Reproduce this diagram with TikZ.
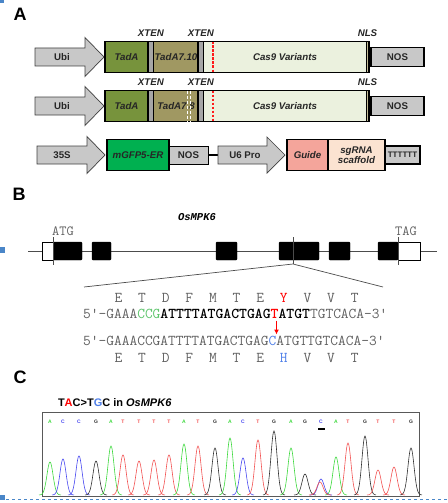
\documentclass[tikz,border=0pt]{standalone}
\usepackage{xcolor}
\usepackage{fontspec}
\setsansfont{Liberation Sans}
\newfontfamily\genefont{Liberation Mono}
\usepackage{tikz}
\usetikzlibrary{arrows.meta}

\definecolor{tada}{HTML}{77933C}
\definecolor{tadb}{HTML}{A09862}
\definecolor{cas}{HTML}{EBF1DE}
\definecolor{nls}{HTML}{C4BD97}
\definecolor{xten}{HTML}{A6A6A6}
\definecolor{prom}{HTML}{C8C8C8}
\definecolor{gfp}{HTML}{00B050}
\definecolor{guide}{HTML}{F4A59B}
\definecolor{scaf}{HTML}{FBE3D1}
\definecolor{seqgray}{HTML}{606060}
\definecolor{cgreen}{HTML}{5CC46B}
\definecolor{cblue}{HTML}{4F7FE8}
\definecolor{cutred}{HTML}{FF1A1A}
\definecolor{pkA}{HTML}{3CD83C}
\definecolor{pkC}{HTML}{4848F0}
\definecolor{pkG}{HTML}{303030}
\definecolor{pkT}{HTML}{F25252}
\definecolor{edge}{HTML}{4A86C8}

\begin{document}
\begin{tikzpicture}[x=1pt, y=-1pt,
    lab/.style={font=\sffamily\bfseries\fontsize{9.7}{10}\selectfont, text=black!85, inner sep=0pt, outer sep=0pt},
    seg/.style={lab, anchor=west, minimum height=31pt},
    outline/.style={line width=1.8pt},
    sep/.style={line width=1.2pt},
    promo/.style={draw=black!75, fill=prom, line width=0.7pt},
    panel/.style={font=\sffamily\bfseries\fontsize{18}{18}\selectfont, inner sep=0pt},
    seq/.style={font=\ttfamily\fontsize{15}{15}\selectfont, text=seqgray, inner sep=0pt, anchor=base west},
    aa/.style={seq, anchor=base},
    exon/.style={fill=black, draw=black, rounded corners=1pt},
    peak/.style={line width=0.6pt}]
    \useasboundingbox (0,0) rectangle (447,503);

    % side marks
    \fill[edge] (0,0) rectangle (4,3.5);
    \fill[edge] (0,247) rectangle (5,253);
    \fill[edge] (0,495) rectangle (5,500);
    \draw[edge, dashed, line width=0.7pt] (0,499.5) -- (447,499.5);

    % A: base editor constructs
    \node[panel] (A) at (20,14.5) {A};
    \foreach \r/\y/\tname in {1/57/TadA7.10, 2/106/TadA7.8} {
        \draw[promo] (35,\y-9) -- (85,\y-9) -- (85,\y-19.5) -- (104,\y) -- (85,\y+19.5) -- (85,\y+9) -- (35,\y+9) -- cycle;
        \node[lab] (ubi\r) at (62,\y) {Ubi};
        \node[seg, fill=tada, minimum width=43pt] (tada\r) at (105,\y) {\textit{TadA}};
        \node[seg, fill=xten, draw, sep, minimum width=6pt] (xa\r) at (tada\r.east) {};
        \node[seg, fill=tadb, minimum width=44pt] (tadb\r) at (xa\r.east) {\textit{\tname}};
        \node[seg, fill=xten, draw, sep, minimum width=6pt] (xb\r) at (tadb\r.east) {};
        \node[seg, fill=cas, minimum width=162pt] (cas\r) at (xb\r.east) {\textit{Cas9 Variants}};
        \node[seg, fill=nls, draw, line width=0.8pt, minimum width=3pt] (nls\r) at (cas\r.east) {};
        \draw[draw=cutred, line width=1.3pt, dash pattern=on 2.5pt off 1.5pt] ([xshift=9pt]cas\r.north west) -- ([xshift=9pt]cas\r.south west);
        \draw[outline] (tada\r.north west) rectangle (nls\r.south east);
        \node[seg, fill=prom, draw, line width=1.6pt, minimum width=53pt, minimum height=19pt] (nos\r) at ([xshift=2pt]nls\r.east) {NOS};
        \node[lab, above=5pt] at (xa\r.north) {\textit{XTEN}};
        \node[lab, above=5pt] at (xb\r.north) {\textit{XTEN}};
        \node[lab, above=5pt] at (nls\r.north) {\textit{NLS}};
    }
    \draw[white, densely dashed, line width=0.6pt] ([xshift=-11pt]tadb2.north east) -- ([xshift=-11pt]tadb2.south east);
    \draw[white, densely dashed, line width=0.6pt] ([xshift=-8pt]tadb2.north east) -- ([xshift=-8pt]tadb2.south east);

    % sgRNA cassette
    \draw[promo] (37,146) -- (87,146) -- (87,136.5) -- (105,155) -- (87,173.5) -- (87,164) -- (37,164) -- cycle;
    \node[lab] (p35s) at (62,155) {35S};
    \node[seg, fill=gfp, minimum width=62pt] (gfp) at (107,155) {\textit{mGFP5-ER}};
    \node[seg, fill=prom, draw, line width=0.7pt, minimum width=39pt, minimum height=18pt] (nos3) at (gfp.east) {NOS};
    \draw[outline] (gfp.north west) rectangle (gfp.south east);
    \coordinate (u6tail) at (218,155);
    \draw[line width=2.5pt] (nos3) -- (u6tail);
    \draw[promo] (218,146) -- (267,146) -- (267,137) -- (285,155) -- (267,173) -- (267,164) -- (218,164) -- cycle;
    \node[lab] (u6) at (245,155) {U6 Pro};
    \node[seg, fill=guide, minimum width=41pt] (guide) at (287,155) {\textit{Guide}};
    \node[seg, fill=scaf, minimum width=57pt, align=center] (scaf) at (guide.east) {\textit{sgRNA}\\\textit{scaffold}};
    \draw[sep] (guide.north east) -- (guide.south east);
    \node[seg, fill=prom, draw, line width=1.6pt, minimum width=35pt, minimum height=18pt,
        font=\sffamily\bfseries\fontsize{8}{8}\selectfont] (term) at (scaf.east) {TTTTTT};
    \draw[outline] (guide.north west) rectangle (scaf.south east);

    % B: gene model and target site
    \node[panel] (B) at (19,194) {B};
    \node[font=\genefont\bfseries\itshape\fontsize{10.5}{10.5}\selectfont, inner sep=0pt] (gname) at (197,217) {OsMPK6};
    \draw[black!70, line width=0.8pt] (28,251) -- (437,251);
    \foreach \a/\b in {53/82, 92/111, 216/237, 279/319, 329/350, 378/398}
        \draw[exon] (\a,242) rectangle (\b,260);
    \draw[draw=black, fill=white, line width=0.8pt] (42,242) rectangle (53,260);
    \draw[draw=black, fill=white, line width=0.8pt] (398,242) rectangle (420,260);
    \draw[black!70, line width=0.6pt] (53,237) -- (53,265);
    \draw[black!70, line width=0.6pt] (398,237) -- (398,265);
    \draw[black!70, line width=0.6pt] (293,237) -- (293,264);
    \node[seq, anchor=center, font=\ttfamily\fontsize{14}{14}\selectfont] (atg) at (63,231) {ATG};
    \node[seq, anchor=center, font=\ttfamily\fontsize{14}{14}\selectfont] (tag) at (406,231) {TAG};
    \coordinate (zt) at (293,264);
    \coordinate (zl) at (84,287);
    \coordinate (zr) at (383,287);
    \draw[black!70, line width=0.7pt] (zl) -- (zt) -- (zr);

    \foreach \aa [count=\k] in {E,T,D,F,M,T,E,\textcolor{red}{Y},V,V,T}
        \node[aa] (wa\k) at ({83+7.875*(3*\k+1.5)},302.8) {\aa};
    \node[seq] (wt) at (83,318) {5'-GAAA\textcolor{cgreen}{CCG}\textbf{\textcolor{black}{ATTTTATGACTGAG}\textcolor{red}{T}\textcolor{black}{ATGT}}TGTCACA-3'};
    \coordinate (mt) at (276.5,320.5);
    \coordinate (mc) at (276.5,334.5);
    \draw[red, line width=1.2pt, -{Latex[length=5pt, width=5pt]}] (mt) -- (mc);
    \node[seq] (mut) at (83,345.6) {5'-GAAACCGATTTTATGACTGAG\textcolor{cblue}{C}ATGTTGTCACA-3'};
    \foreach \aa [count=\k] in {E,T,D,F,M,T,E,\textcolor{cblue}{H},V,V,T}
        \node[aa] (ma\k) at ({83+7.875*(3*\k+1.5)},362.4) {\aa};

    % C: chromatogram
    \node[panel] (C) at (20,377) {C};
    \node[lab, anchor=west, font=\sffamily\bfseries\fontsize{11}{11}\selectfont, text=black] (ctitle) at (58,403)
        {T\textcolor{red}{A}C>T\textcolor{cblue}{G}C in \textit{OsMPK6}};
    \draw[black!65, line width=1pt] (42,412) rectangle (419,496);
    \foreach \px/\ph/\pb/\pc in {50/33/A/pkA, 63/36/C/pkC, 79/39/C/pkC, 96/34/G/pkG, 111/49/A/pkA,
        123/40/T/pkT, 139/34/T/pkT, 154/35/T/pkT, 169/40/T/pkT, 184/51/A/pkA, 198/49/T/pkT,
        215/47/G/pkG, 230/57/A/pkA, 243/37/C/pkC, 258/55/T/pkT, 274/64/G/pkG, 291/47/A/pkA,
        305/21/G/pkG, 321/16/C/pkC, 336/38/A/pkA, 348/52/T/pkT, 365/59/G/pkG, 378/25/T/pkT,
        394/28/T/pkT, 411/47/G/pkG} {
        \draw[peak, \pc] plot[domain=\px-11:\px+11, samples=31, smooth] (\x, {495-\ph*exp(-((\x-\px)/4.3)^2)});
        \node[font=\sffamily\bfseries\fontsize{5}{5}\selectfont, text=\pc, inner sep=0pt] at (\px,422) {\pb};
    }
    \draw[peak, pkT] plot[domain=309:331, samples=31, smooth] (\x, {495-13*exp(-((\x-320)/4.3)^2)});
    \draw[line width=1.2pt] (318,429) -- (325,429);
\end{tikzpicture}
\end{document}
